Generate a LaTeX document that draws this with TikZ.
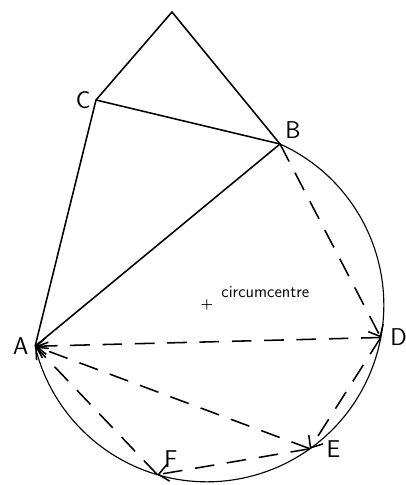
\documentclass[tikz,border=0pt]{standalone}
\usetikzlibrary{arrows.meta,calc}
\begin{document}
\begin{tikzpicture}[line width=1.1pt,dsh/.style={dash pattern=on 14pt off 9pt,-{Straight Barb[length=7pt,width=12pt]}},lbl/.style={font=\sffamily\LARGE}]
\useasboundingbox(0,0)rectangle(10.125,12.125);
\coordinate(O)at(5.175,4.5);\coordinate(A)at($(O)+(193.5:4.42)$);\coordinate(B)at($(O)+(65.6:4.42)$);\coordinate(D)at($(O)+(-10.6:4.42)$);\coordinate(E)at($(O)+(-54.4:4.42)$);\coordinate(F)at($(O)+(-106.3:4.42)$);
\coordinate(C)at(2.4,9.625);\coordinate(T)at(4.3,11.825);
\draw[line width=.8pt](B)arc(65.6:-166.5:4.42);
\draw(A)--(C)--(T)--(B)--(A);\draw(C)--(B);
\draw[dsh](B)--(D);\draw[dsh](D)--(A);\draw[dsh](D)--(E);\draw[dsh](E)--(A);\draw[dsh](E)--(F);\draw[dsh](F)--(A);
\node[lbl,left=1pt](la)at(A){A};\node[lbl,above right=0pt](lb)at(B){B};\node[lbl,left=0pt](lc)at(C){C};\node[lbl,right=3pt](ld)at(D){D};\node[lbl,right=8pt](le)at(E){E};\node[lbl,above right=1pt](lf)at(F){F};
\node[inner sep=0](plus)at(O){\bfseries+};\node[anchor=base west,font=\sffamily\large](circ)at(5.4,4.68){circumcentre};
\end{tikzpicture}
\end{document}
